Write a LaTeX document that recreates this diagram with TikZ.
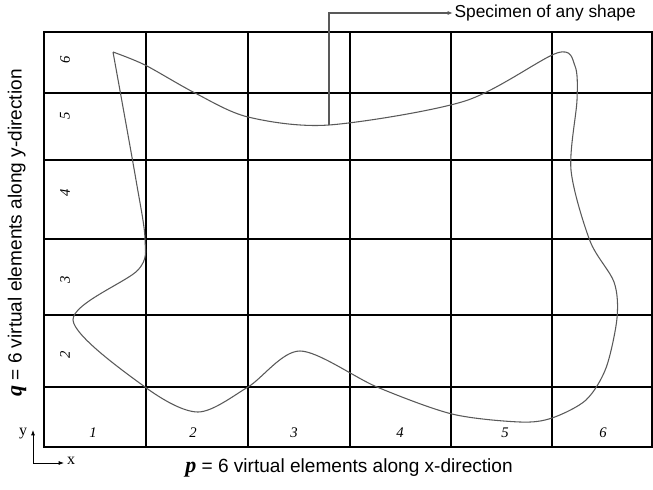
\documentclass[tikz,border=0pt]{standalone}
\usepackage{fontspec}
\setmainfont{Liberation Sans}
\newfontfamily\timesfont{Liberation Serif}
\usetikzlibrary{arrows.meta, positioning}

\begin{document}
\begin{tikzpicture}[
    x=0.75pt, y=-0.75pt,
    every node/.style={font=\fontsize{13}{15}\selectfont},
    gridline/.style={line width=1.5pt, black, line cap=rect},
    specimen/.style={gray!70!black, line width=0.8pt},
    leader/.style={-{Latex[length=4pt,width=3pt]}, gray!70!black, line width=0.8pt},
    cellnum/.style={font=\timesfont\itshape\fontsize{11}{12}\selectfont, inner sep=0pt},
    axis/.style={-{Latex[length=4pt,width=3pt]}, line width=0.6pt},
    caption/.style={font=\fontsize{14.3}{16}\selectfont}
]
\useasboundingbox (0,0) rectangle (653,489);

% grid of virtual elements
\foreach \x in {44,146,248,350,451,552,652}
  \draw[gridline] (\x,32) -- (\x,447);
\foreach \y in {32,93,160,239,315,387,447}
  \draw[gridline] (44,\y) -- (652,\y);

% element numbers
\foreach \n/\x in {1/93,2/193,3/294,4/400,5/505,6/603}
  \node[cellnum] (col\n) at (\x,433) {\n};
\foreach \n/\y in {2/355,3/280,4/193,5/116,6/60}
  \node[cellnum, rotate=90] (row\n) at (65,\y) {\n};

% specimen outline
\draw[specimen] plot[smooth, tension=0.5] coordinates {
  (113,52) (145,65) (195,93) (248,117) (329,125)
  (465,101) (557,53) (575,66) (577,100)
  (571,170) (590,241) (614,282) (617,318) (606,368) (586,400)
  (552,418) (520,422) (452,414) (377,387) (300,351)
  (248,387) (198,412) (145,387) (73,320)
  (138,270) (145,239) (136,180) (113,52)};

% label of the specimen
\coordinate (spec) at (329,125);
\node[anchor=west, inner sep=1pt] (speclbl) at (453,13) {Specimen of any shape};
\draw[leader] (spec) |- (speclbl.west);

% axes
\coordinate (orig) at (33,463);
\coordinate (ytip) at (33,430);
\coordinate (xtip) at (64,463);
\draw[axis] (orig) -- (ytip);
\draw[axis] (orig) -- (xtip);
\node[font=\timesfont\fontsize{12}{12}\selectfont] (ylbl) at (23,434) {y};
\node[font=\timesfont\fontsize{12}{12}\selectfont] (xlbl) at (71,461) {x};

% axis captions
\node[caption] (plbl) at (349,468) {{\timesfont\bfseries\itshape\fontsize{16.5}{18}\selectfont p} = 6 virtual elements along x-direction};
\node[caption, rotate=90] (qlbl) at (17,233) {{\timesfont\bfseries\itshape\fontsize{16.5}{18}\selectfont q} = 6 virtual elements along y-direction};
\end{tikzpicture}
\end{document}
